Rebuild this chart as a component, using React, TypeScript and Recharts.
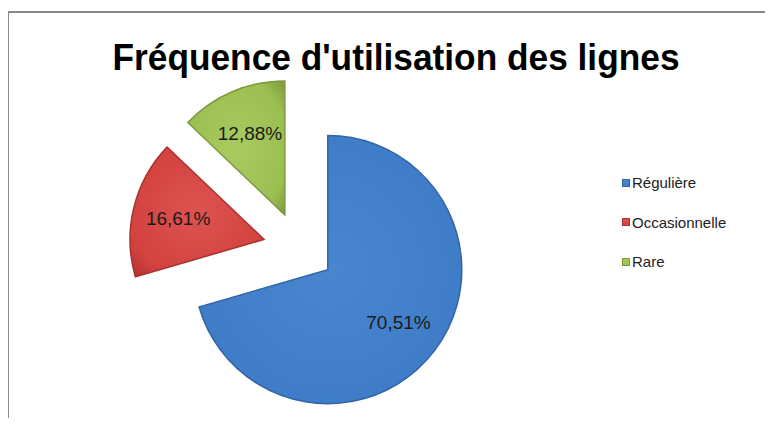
import { PieChart, Pie, Cell, Sector, Legend } from "recharts";

const categories = ["Régulière", "Occasionnelle", "Rare"];
const shares = [70.51, 16.61, 12.88];
const baseColors = ["#3F7CC7", "#D3423F", "#9CBF52"];
const lightColors = ["#4A86D0", "#DC5350", "#A8CA5E"];
const edgeColors = ["#3364A6", "#A8322F", "#7B9A3C"];

const data = categories.map((name, i) => ({ name, value: shares[i] }));

const RAD = Math.PI / 180;
const EXPLODE = 36;
const FONT = "'Liberation Sans', Arial, sans-serif";

const idxOf = (p: any) => {
  const n = p.name ?? p.payload?.name;
  const i = categories.indexOf(n);
  return i < 0 ? 0 : i;
};

// every slice is pulled out along its middle angle, like Excel's exploded pie
function ExplodedSector(props: any) {
  const { cx, cy, midAngle } = props;
  const i = idxOf(props);
  const dx = EXPLODE * Math.cos(-midAngle * RAD);
  const dy = EXPLODE * Math.sin(-midAngle * RAD);
  return (
    <Sector
      {...props}
      cx={cx + dx}
      cy={cy + dy}
      fill={`url(#slice${i})`}
      stroke={edgeColors[i]}
      strokeWidth={1.5}
    />
  );
}

function renderLabel(p: any) {
  const { cx, cy, midAngle, outerRadius, value } = p;
  const r = EXPLODE + outerRadius * 0.66;
  const x = cx + r * Math.cos(-midAngle * RAD);
  const y = cy + r * Math.sin(-midAngle * RAD);
  return (
    <text
      x={x}
      y={y}
      textAnchor="middle"
      dominantBaseline="central"
      fill="#1b1b1b"
      fontSize={19}
      fontFamily={FONT}
    >
      {`${Number(value).toFixed(2).replace(".", ",")}%`}
    </text>
  );
}

function LegendBox() {
  return (
    <div style={{ fontFamily: FONT, fontSize: 15, color: "#222" }}>
      {categories.map((c, i) => (
        <div key={c} style={{ display: "flex", alignItems: "center", height: 39.5 }}>
          <span
            style={{
              display: "inline-block",
              width: 8,
              height: 8,
              marginRight: 2,
              background: `linear-gradient(${lightColors[i]}, ${baseColors[i]})`,
              border: `1px solid ${edgeColors[i]}`,
              boxSizing: "border-box",
            }}
          />
          <span>{c}</span>
        </div>
      ))}
    </div>
  );
}

export default function App() {
  return (
    <div style={{ position: "relative", width: 773, height: 426, margin: -8, background: "#fff", overflow: "hidden" }}>
      <div
        style={{
          position: "absolute",
          left: 7,
          top: 11,
          width: 800,
          height: 440,
          borderLeft: "2px solid #8a8a8a",
          borderTop: "2px solid #8a8a8a",
        }}
      />
      <svg width={773} height={100} style={{ position: "absolute", left: 0, top: 0 }}>
        <text
          x={396}
          y={70}
          textAnchor="middle"
          fontFamily={FONT}
          fontWeight="bold"
          fontSize={36}
          textLength={567}
          lengthAdjust="spacingAndGlyphs"
          fill="#000"
        >
          Fréquence d'utilisation des lignes
        </text>
      </svg>
      <div style={{ position: "absolute", left: 0, top: 0 }}>
        <PieChart width={773} height={426}>
          <defs>
            {baseColors.map((c, i) => (
              <radialGradient key={i} id={`slice${i}`} cx="50%" cy="50%" r="70%">
                <stop offset="0%" stopColor={lightColors[i]} />
                <stop offset="75%" stopColor={c} />
                <stop offset="100%" stopColor={edgeColors[i]} />
              </radialGradient>
            ))}
          </defs>
          <Pie
            data={data}
            dataKey="value"
            nameKey="name"
            cx={294}
            cy={243}
            outerRadius={134}
            startAngle={90}
            endAngle={-270}
            stroke="none"
            shape={ExplodedSector}
            label={renderLabel}
            labelLine={false}
            isAnimationActive={false}
          >
            {data.map((d, i) => (
              <Cell key={d.name} fill={baseColors[i]} />
            ))}
          </Pie>
          <Legend
            layout="vertical"
            align="right"
            verticalAlign="top"
            wrapperStyle={{ left: 622, top: 163, width: 150 }}
            content={LegendBox}
          />
        </PieChart>
      </div>
    </div>
  );
}
